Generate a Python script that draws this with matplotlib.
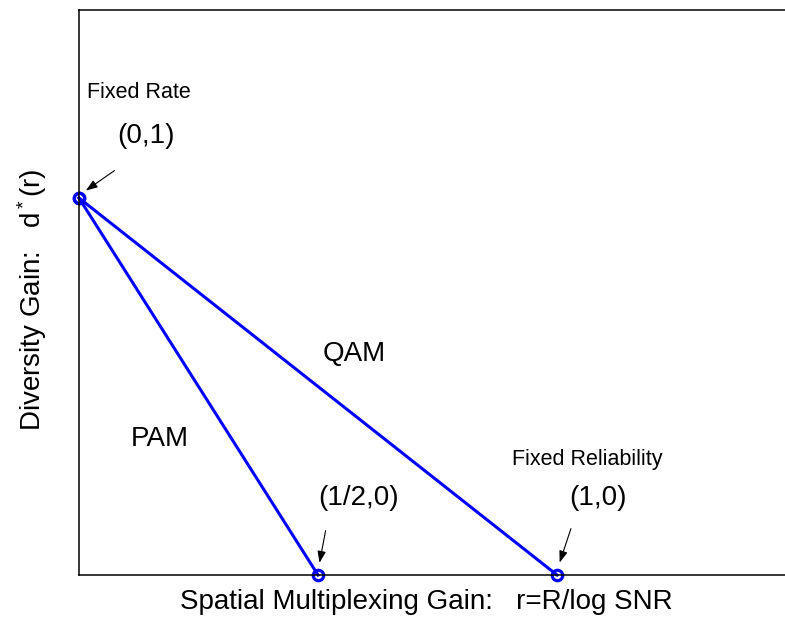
import matplotlib
matplotlib.use("Agg")
import matplotlib.pyplot as plt

plt.rcParams['font.family'] = ['Liberation Sans', 'DejaVu Sans']
plt.rcParams['mathtext.fontset'] = 'custom'
plt.rcParams['mathtext.rm'] = 'Liberation Sans'
plt.rcParams['mathtext.it'] = 'Liberation Sans'

# tradeoff curves (r, d)
qam_r = [0, 1]
qam_d = [1, 0]
pam_r = [0, 0.5]
pam_d = [1, 0]

# annotated corner points: label, point, arrow tail, text position
point_labels = ['(0,1)', '(1/2,0)', '(1,0)']
point_xy = [(0, 1), (0.5, 0), (1, 0)]
tail_xy = [(0.079, 1.077), (0.517, 0.125), (1.031, 0.130)]
label_xy = [(0.079, 1.165), (0.50, 0.205), (1.025, 0.205)]

fig = plt.figure(figsize=(7.85, 6.24), dpi=100)
ax = fig.add_axes([79 / 785, 49 / 624, 717 / 785, 565.5 / 624])

ax.plot(qam_r, qam_d, color='#0000ff', lw=2.2, marker='o', ms=7.5, mfc='none', mew=2.3, clip_on=False)
ax.plot(pam_r, pam_d, color='#0000ff', lw=2.2, marker='o', ms=7.5, mfc='none', mew=2.3, clip_on=False)

for lab, p, t, l in zip(point_labels, point_xy, tail_xy, label_xy):
    ax.annotate('', xy=(p[0] + (t[0] - p[0]) * 0.12, p[1] + (t[1] - p[1]) * 0.2), xytext=t,
                arrowprops=dict(arrowstyle='-|>,head_length=0.7,head_width=0.25', color='black', lw=0.8))
    ax.text(l[0], l[1], lab, fontsize=20, va='center', ha='left')

ax.text(0.017, 1.279, 'Fixed Rate', fontsize=15.5, va='center')
ax.text(0.906, 0.306, 'Fixed Reliability', fontsize=15.5, va='center')
ax.text(0.51, 0.585, 'QAM', fontsize=20, va='center')
ax.text(0.109, 0.362, 'PAM', fontsize=20, va='center')

ax.set_xlim(0, 1.5)
ax.set_ylim(0, 1.5)
ax.set_xticks([])
ax.set_yticks([])
for s in ax.spines.values():
    s.set_linewidth(1.1)

ax.set_xlabel('Spatial Multiplexing Gain:   r=R/log SNR', fontsize=20)
ax.xaxis.set_label_coords(0.484, -0.025, transform=ax.transAxes)
ax.xaxis.label.set_va('top')
ax.set_ylabel('Diversity Gain:   d$^*$(r)', fontsize=20)
ax.yaxis.set_label_coords(-0.066, 0.487, transform=ax.transAxes)
ax.yaxis.label.set_va('center')

fig.savefig('out.png', dpi=100)
